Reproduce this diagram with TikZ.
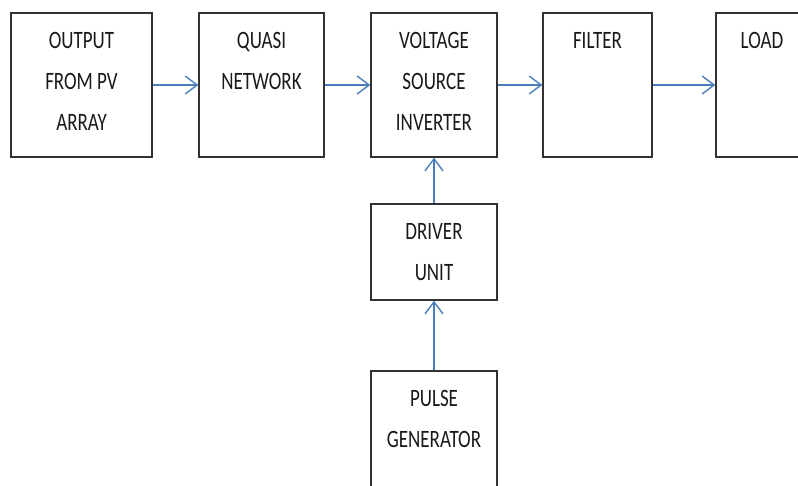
\documentclass[tikz,border=0pt]{standalone}
\usepackage{fontspec}
\setmainfont{Carlito}[FakeStretch=0.76]
\usetikzlibrary{arrows.meta}
\definecolor{arrowblue}{RGB}{74,126,187}
\definecolor{boxgray}{RGB}{50,50,50}
\begin{document}
\begin{tikzpicture}[x=1pt,y=-1pt,
  blk/.style={draw=boxgray,line width=1.4pt,inner sep=0pt},
  txt/.style={align=center,anchor=north,inner sep=0pt,text=black!90,font=\fontsize{25}{41}\selectfont},
  link/.style={draw=arrowblue,line width=1.4pt,-{Straight Barb[length=12pt,width=18pt,line width=1.4pt]}}]
\useasboundingbox (0,0) rectangle (798,486);
\clip (0,0) rectangle (798,486);
% boxes
\node[blk,minimum width=141pt,minimum height=144pt] (b1) at (81.5,85) {};
\node[blk,minimum width=125pt,minimum height=144pt] (b2) at (261.5,85) {};
\node[blk,minimum width=126pt,minimum height=144pt] (b3) at (434,85) {};
\node[blk,minimum width=109pt,minimum height=144pt] (b4) at (597.5,85) {};
\node[blk,minimum width=130pt,minimum height=144pt] (b5) at (781,85) {};
\node[blk,minimum width=126pt,minimum height=96pt] (d) at (434,252) {};
\node[blk,minimum width=126pt,minimum height=150pt] (p) at (434,446) {};
% texts
\node[txt] (t1) at (81.5,32) {OUTPUT\\FROM PV\\ARRAY};
\node[txt] (t2) at (261.5,32) {QUASI\\NETWORK};
\node[txt] (t3) at (434,32) {VOLTAGE\\SOURCE\\INVERTER};
\node[txt] (t4) at (597.5,32) {FILTER};
\node[txt] (t5) at (762,32) {LOAD};
\node[txt] (td) at (434,223) {DRIVER\\UNIT};
\node[txt] (tp) at (434,390) {PULSE\\GENERATOR};
% connectors
\draw[link] (b1.east) -- (b2.west);
\draw[link] (b2.east) -- (b3.west);
\draw[link] (b3.east) -- (b4.west);
\draw[link] (b4.east) -- (b5.west);
\draw[link] (d.north) -- (b3.south);
\draw[link] (p.north) -- (d.south);
\end{tikzpicture}
\end{document}
